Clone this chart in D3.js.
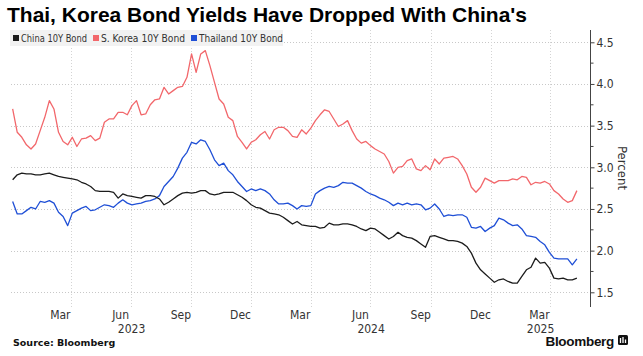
<!DOCTYPE html>
<html><head><meta charset="utf-8">
<script src="https://cdn.jsdelivr.net/npm/d3@7"></script>
<style>
body{margin:0;background:#fff}
svg{display:block}
.lab{font-family:"Liberation Sans Narrow","Arial Narrow","DejaVu Sans Condensed","Roboto",sans-serif}
</style>
</head><body>
<svg id="c" width="643" height="356"></svg>
<script>
// ---------------- DATA ----------------
const seriesNames = ["China 10Y Bond", "S. Korea 10Y Bond", "Thailand 10Y Bond"];
const seriesColors = ["#1c1c1c", "#f2676b", "#1f4fd6"];
const firstWeek = "2023-01-02";   // weekly observations (Mondays)
const lastWeek  = "2025-05-12";

const china = [2.85,2.91,2.93,2.92,2.92,2.91,2.91,2.92,2.93,2.91,2.89,2.88,2.87,2.86,2.85,2.82,2.80,2.77,2.72,2.71,
  2.71,2.71,2.70,2.63,2.68,2.66,2.65,2.64,2.63,2.66,2.66,2.65,2.62,2.55,2.58,2.62,2.66,2.69,2.70,2.69,
  2.70,2.72,2.72,2.68,2.67,2.68,2.70,2.70,2.70,2.67,2.64,2.60,2.55,2.52,2.51,2.48,2.45,2.44,2.43,2.40,
  2.36,2.32,2.35,2.31,2.30,2.29,2.29,2.27,2.28,2.33,2.31,2.31,2.32,2.32,2.31,2.29,2.26,2.24,2.27,2.26,
  2.22,2.18,2.14,2.17,2.22,2.18,2.16,2.15,2.12,2.08,2.04,2.17,2.18,2.16,2.14,2.12,2.12,2.11,2.09,2.05,
  1.97,1.85,1.77,1.72,1.67,1.62,1.65,1.66,1.63,1.61,1.61,1.69,1.77,1.80,1.91,1.85,1.86,1.79,1.67,1.66,
  1.67,1.65,1.65,1.67];

const korea = [3.70,3.42,3.36,3.27,3.22,3.28,3.44,3.60,3.80,3.70,3.42,3.31,3.27,3.36,3.25,3.34,3.35,3.38,3.32,3.35,
  3.54,3.58,3.58,3.66,3.66,3.63,3.74,3.80,3.63,3.64,3.75,3.81,3.82,3.96,3.88,3.92,3.96,3.97,4.08,4.36,
  4.14,4.36,4.40,4.22,4.02,3.82,3.76,3.60,3.56,3.37,3.30,3.22,3.30,3.33,3.39,3.43,3.34,3.45,3.48,3.48,
  3.44,3.37,3.36,3.45,3.40,3.47,3.56,3.63,3.69,3.67,3.58,3.49,3.52,3.56,3.44,3.34,3.29,3.31,3.26,3.22,
  3.19,3.16,3.07,2.93,3.00,3.01,3.08,3.10,2.98,2.96,3.02,2.97,3.10,3.04,3.11,3.12,3.13,3.10,3.02,2.92,
  2.76,2.70,2.76,2.87,2.84,2.81,2.84,2.84,2.84,2.86,2.85,2.89,2.88,2.79,2.82,2.81,2.83,2.80,2.72,2.68,
  2.62,2.58,2.60,2.72];

const thailand = [2.59,2.44,2.44,2.48,2.52,2.50,2.59,2.58,2.60,2.57,2.46,2.41,2.30,2.45,2.48,2.51,2.53,2.48,2.49,2.52,
  2.55,2.54,2.52,2.57,2.61,2.57,2.55,2.56,2.57,2.59,2.60,2.62,2.66,2.77,2.83,2.89,2.99,3.11,3.18,3.30,
  3.28,3.33,3.31,3.21,3.09,3.02,3.05,2.96,2.91,2.83,2.77,2.71,2.74,2.72,2.74,2.72,2.68,2.61,2.56,2.56,
  2.57,2.54,2.50,2.54,2.53,2.54,2.68,2.72,2.75,2.77,2.76,2.78,2.82,2.81,2.81,2.78,2.75,2.71,2.68,2.66,
  2.63,2.61,2.58,2.54,2.57,2.55,2.57,2.55,2.56,2.55,2.49,2.51,2.56,2.50,2.41,2.43,2.42,2.43,2.43,2.40,
  2.28,2.27,2.29,2.23,2.27,2.30,2.39,2.37,2.33,2.30,2.31,2.26,2.18,2.17,2.16,2.11,2.07,1.98,1.91,1.90,
  1.90,1.90,1.83,1.90];

const yTicks = [1.5, 2.0, 2.5, 3.0, 3.5, 4.0, 4.5];
const monthLabels = ["2023-03-15","2023-06-15","2023-09-15","2023-12-15","2024-03-15","2024-06-15","2024-09-15","2024-12-15","2025-03-15"];
const yearLabels = ["2023", "2024", "2025"];

// ---------------- CHART ----------------
const svg = d3.select("#c");
const parse = d3.timeParse("%Y-%m-%d");
const dates = d3.timeMonday.range(parse(firstWeek), d3.timeDay.offset(parse(lastWeek), 1));
const series = [china, korea, thailand];

const x0 = new Date(2023, 0, 1), x1 = new Date(2025, 5, 1);
const x = d3.scaleTime().domain([x0, x1]).range([12, 590]);
const y = d3.scaleLinear().domain([1.5, 4.5]).range([292.3, 42.3]);
const plotTop = 30, plotBottom = 307, plotLeft = 11, plotRight = 590.5;

// horizontal grid
svg.append("g").selectAll("line").data(yTicks).join("line")
  .attr("x1", plotLeft).attr("x2", plotRight)
  .attr("y1", d => Math.round(y(d)) + 0.5).attr("y2", d => Math.round(y(d)) + 0.5)
  .attr("stroke", "#c8c8c8").attr("stroke-dasharray", "1,2");

// vertical grid at quarter starts
const quarters = d3.timeMonth.every(3).range(d3.timeDay.offset(x0, 1), x1);
svg.append("g").selectAll("line").data(quarters).join("line")
  .attr("x1", d => Math.round(x(d)) + 0.5).attr("x2", d => Math.round(x(d)) + 0.5)
  .attr("y1", plotTop).attr("y2", plotBottom)
  .attr("stroke", "#d4d4d4").attr("stroke-dasharray", "1,2");

// lines
const line = d3.line().x((d, i) => x(dates[i])).y(d => y(d));
const order = [1, 2, 0];
order.forEach(si => {
  svg.append("path").datum(series[si])
    .attr("d", line).attr("fill", "none")
    .attr("stroke", seriesColors[si]).attr("stroke-width", 1.3)
    .attr("stroke-linejoin", "round");
});

// right axis
const yAxis = d3.axisRight(y).tickValues(yTicks).tickFormat(d3.format(".1f")).tickSize(4).tickPadding(2);
const ga = svg.append("g").attr("transform", `translate(${plotRight},0)`).call(yAxis);
ga.select(".domain").remove();
ga.selectAll("line").attr("stroke", "#444");
ga.selectAll("text").attr("class", "lab").attr("font-size", 12).attr("fill", "#333");
const minor = d3.range(1.75, 4.5, 0.5);
svg.append("g").selectAll("line").data(minor).join("line")
  .attr("x1", plotRight).attr("x2", plotRight + 3)
  .attr("y1", d => y(d)).attr("y2", d => y(d)).attr("stroke", "#444");
svg.append("line").attr("x1", plotRight).attr("x2", plotRight).attr("y1", plotTop).attr("y2", plotBottom)
  .attr("stroke", "#444").attr("stroke-width", 1);
svg.append("text").attr("class", "lab").attr("transform", `translate(618,168) rotate(90)`)
  .attr("text-anchor", "middle").attr("font-size", 13).attr("fill", "#333").text("Percent");

// bottom axis labels
const xAxis = d3.axisBottom(x).tickValues(monthLabels.map(parse)).tickFormat(d3.timeFormat("%b")).tickSize(0).tickPadding(0);
const gx = svg.append("g").attr("transform", "translate(0,310)").call(xAxis);
gx.select(".domain").remove();
gx.selectAll("text").attr("class", "lab").attr("font-size", 12).attr("fill", "#333").attr("dy", "0.71em");
svg.append("g").selectAll("text").data(yearLabels).join("text")
  .attr("class", "lab").attr("font-size", 12).attr("fill", "#333").attr("text-anchor", "middle")
  .attr("x", d => {
    const a = d3.max([new Date(+d, 0, 1), x0]), b = d3.min([new Date(+d + 1, 0, 1), x1]);
    return x(new Date((+a + +b) / 2));
  })
  .attr("y", 333).text(d => d);

// title
svg.append("text").attr("x", 7).attr("y", 22).attr("font-family", "Liberation Sans, Arial, sans-serif")
  .attr("font-weight", "bold").attr("font-size", 21).attr("fill", "#000")
  .attr("textLength", 520).attr("lengthAdjust", "spacingAndGlyphs")
  .text("Thai, Korea Bond Yields Have Dropped With China's");

// legend
svg.append("rect").attr("x", 10).attr("y", 30).attr("width", 273).attr("height", 16).attr("fill", "#f2f2f2");
const legX = [13, 93, 191];
const legW = [66, 84, 84];
seriesNames.forEach((n, i) => {
  svg.append("rect").attr("x", legX[i]).attr("y", 35).attr("width", 6).attr("height", 6).attr("fill", seriesColors[i]);
  svg.append("text").attr("class", "lab").attr("x", legX[i] + 8).attr("y", 42).attr("font-size", 10.5)
    .attr("fill", "#333").attr("textLength", legW[i]).attr("lengthAdjust", "spacingAndGlyphs").text(n);
});

// footer
svg.append("text").attr("x", 13).attr("y", 346).attr("font-family", "DejaVu Sans, sans-serif")
  .attr("font-weight", "bold").attr("font-size", 9.5).attr("fill", "#111").text("Source: Bloomberg");
svg.append("text").attr("x", 614).attr("y", 346).attr("text-anchor", "end").attr("font-family", "Liberation Sans, Arial, sans-serif")
  .attr("font-weight", "bold").attr("font-size", 13.5).attr("fill", "#111").attr("letter-spacing", -0.3).text("Bloomberg");
const ic = svg.append("g").attr("transform", "translate(618,335)");
ic.append("rect").attr("width", 10).attr("height", 10).attr("rx", 1.5).attr("fill", "#111");
[[2.5,3,8],[5,2,8],[7.5,4.5,8]].forEach(([cx, y1, y2]) =>
  ic.append("line").attr("x1", cx).attr("x2", cx).attr("y1", y1).attr("y2", y2).attr("stroke", "#fff").attr("stroke-width", 1.3));
</script>
</body></html>
